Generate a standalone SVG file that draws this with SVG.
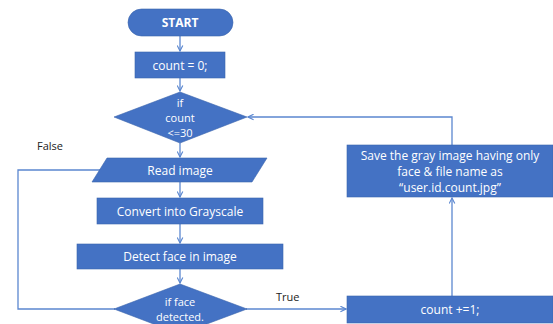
<svg xmlns="http://www.w3.org/2000/svg" width="553" height="324" viewBox="0 0 553 324">
<defs>
<style>
.n{fill:#4472C4;stroke:#3B64AD;stroke-width:0.6}
.t{fill:#fff;font-family:"Open Sans","Liberation Sans",sans-serif;font-size:12px;text-anchor:middle}
.d{font-size:11px}
.l{fill:#222;font-family:"Open Sans","Liberation Sans",sans-serif;font-size:11px}
.c{fill:none;stroke:#5B87D0;stroke-width:1.3}
</style>
<marker id="a" viewBox="0 0 10 10" refX="9" refY="5" markerWidth="7" markerHeight="7" orient="auto" markerUnits="userSpaceOnUse">
<path d="M1,1 L9,5 L1,9" fill="none" stroke="#5B87D0" stroke-width="1.6"/>
</marker>
</defs>
<rect width="553" height="324" fill="#fff"/>
<g id="connectors">
<path class="c" d="M180,36 V51" marker-end="url(#a)"/>
<path class="c" d="M180,78 V91" marker-end="url(#a)"/>
<path class="c" d="M180,143 V157" marker-end="url(#a)"/>
<path class="c" d="M180,182 V197" marker-end="url(#a)"/>
<path class="c" d="M180,224 V243" marker-end="url(#a)"/>
<path class="c" d="M180,269 V283" marker-end="url(#a)"/>
<path class="c" d="M246,309 H346" marker-end="url(#a)"/>
<path class="c" d="M452,296 V198" marker-end="url(#a)"/>
<path class="c" d="M452,145 V117 H248" marker-end="url(#a)"/>
<path class="c" d="M115,309 H18 V170 H103"/>
<text class="l" x="37" y="150">False</text>
<text class="l" x="276" y="301">True</text>
</g>
<g id="start"><rect class="n" x="128" y="9" width="105" height="27" rx="13.5"/><text class="t" x="180" y="26.5" font-weight="bold">START</text></g>
<g id="init"><rect class="n" x="135" y="52" width="90" height="26"/><text class="t" x="180" y="69.5">count = 0;</text></g>
<g id="cond"><polygon class="n" points="180,92 247,117 180,143 114,117"/><text class="t d" x="180" y="107">if</text><text class="t d" x="180" y="122">count</text><text class="t d" x="180" y="137">&lt;=30</text></g>
<g id="read"><polygon class="n" points="107,158 267,158 252,182 92,182"/><text class="t" x="180" y="174.5">Read image</text></g>
<g id="gray"><rect class="n" x="97" y="198" width="166" height="26"/><text class="t" x="180" y="215.5">Convert into Grayscale</text></g>
<g id="detect"><rect class="n" x="77" y="244" width="206" height="25"/><text class="t" x="180" y="261">Detect face in image</text></g>
<g id="ifface"><polygon class="n" points="180,284 247,309 180,334 114,309"/><text class="t d" x="180" y="306">if face</text><text class="t d" x="180" y="321">detected.</text></g>
<g id="save"><rect class="n" x="347" y="145" width="206" height="52"/><text class="t" x="450" y="160" font-size="11.5">Save the gray image having only</text><text class="t" x="450" y="176" font-size="11.5">face &amp; file name as</text><text class="t" x="450" y="192" font-size="11.5">“user.id.count.jpg”</text></g>
<g id="inc"><rect class="n" x="347" y="296" width="206" height="27"/><text class="t" x="450" y="313.5">count +=1;</text></g>
</svg>
